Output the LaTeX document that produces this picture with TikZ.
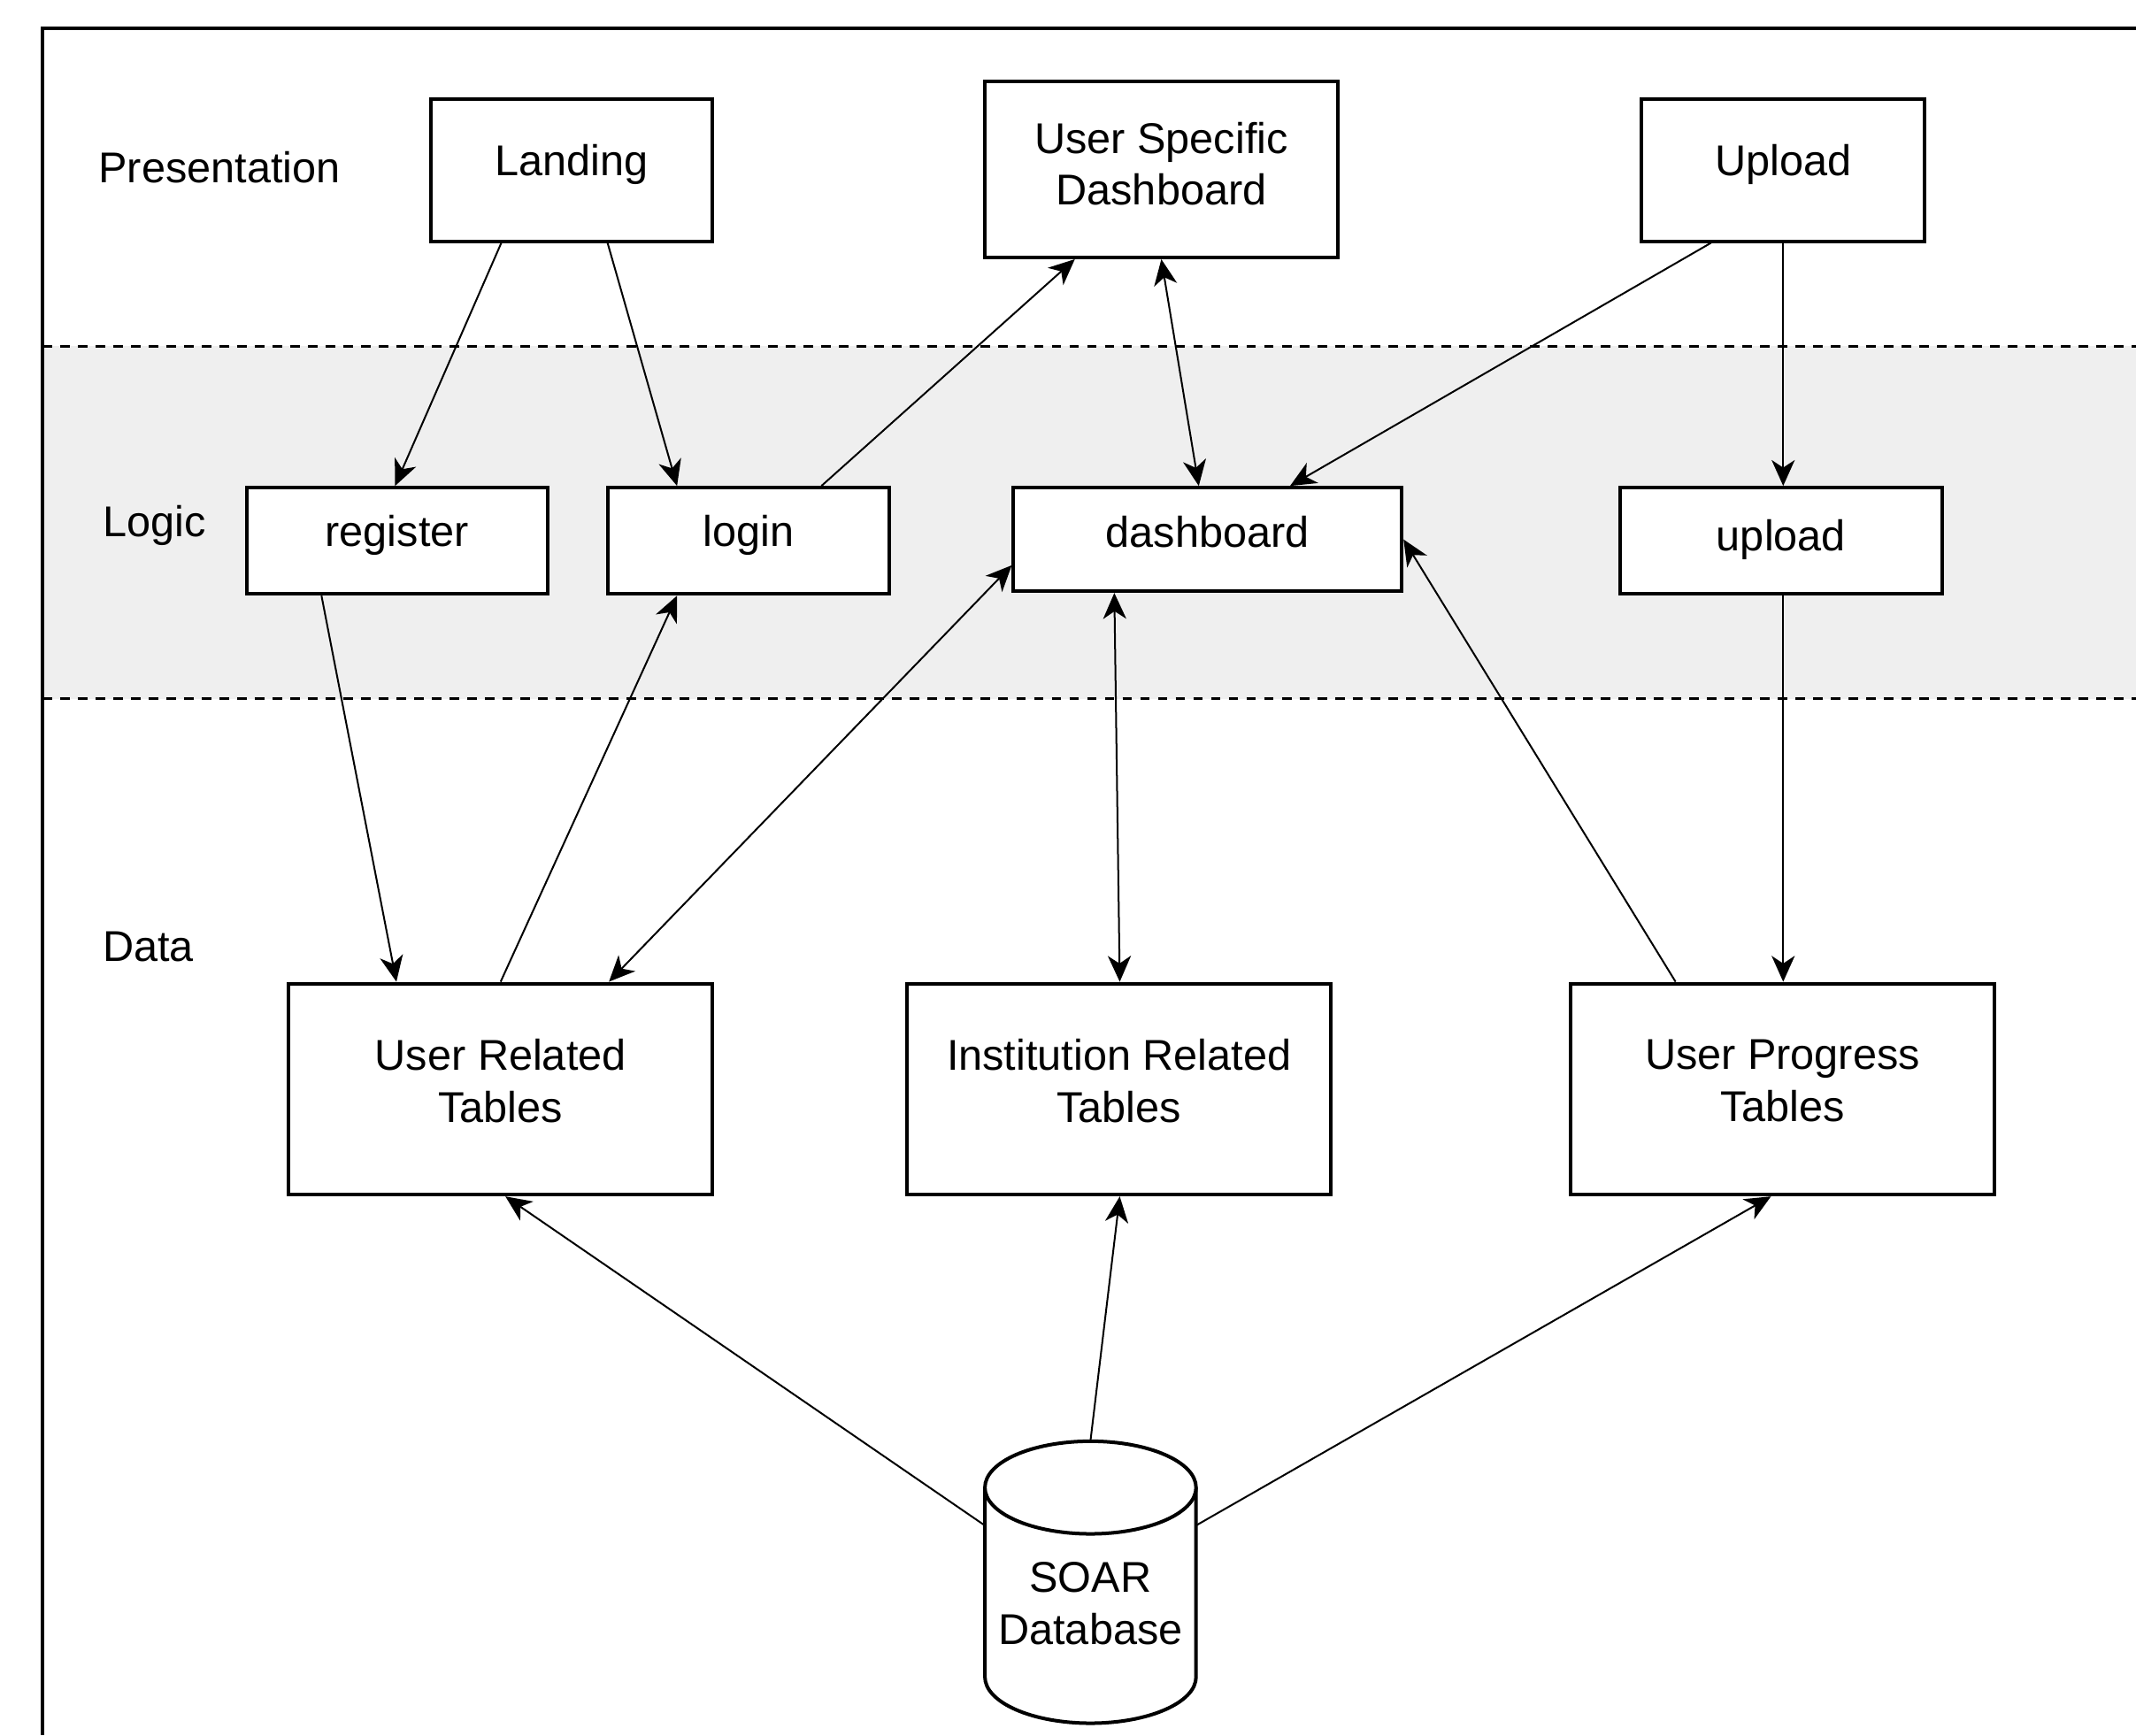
\documentclass[tikz,border=0pt]{standalone}
\usepackage{fontspec}
\setmainfont{Liberation Sans}
\usetikzlibrary{arrows.meta}
\definecolor{bandgray}{HTML}{EFEFEF}
\begin{document}
\begin{tikzpicture}[x=0.5pt,y=-0.5pt,
  box/.style={draw, line width=1.3pt, fill=white, inner sep=0pt},
  txt/.style={font=\fontsize{15.8}{19}\selectfont, align=center, inner sep=0pt},
  conn/.style={line width=0.65pt, -{Stealth[length=9.5pt,width=8.5pt,inset=2.8pt]}},
  dconn/.style={line width=0.65pt, {Stealth[length=9.5pt,width=8.5pt,inset=2.8pt]}-{Stealth[length=9.5pt,width=8.5pt,inset=2.8pt]}},
  layerline/.style={line width=1pt, dash pattern=on 3.5pt off 3pt}
]
\useasboundingbox (0,0) rectangle (1568,1274);
% logic band
\fill[bandgray] (31,254) rectangle (1568,513);
\draw[layerline] (31,254) -- (1568,254);
\draw[layerline] (31,513) -- (1568,513);
% outer frame
\draw[line width=1.3pt] (1568,21) -- (31,21) -- (31,1274);

% layer labels
\node[txt, anchor=west] (presL) at (72,123) {Presentation};
\node[txt, anchor=west] (logicL) at (75,386) {Logic};
\node[txt, anchor=west] (dataL) at (75,695) {Data};

% presentation boxes
\node[box, minimum width=103.5pt, minimum height=52pt] (landing) at (419.5,125) {};
\node[txt] (landingT) at ([yshift=2pt]landing.center) {Landing};
\node[box, minimum width=129.5pt, minimum height=64.5pt] (usd) at (852.5,124.5) {};
\node[txt] (usdT) at ([yshift=2.2pt]usd.center) {User Specific\\Dashboard};
\node[box, minimum width=104pt, minimum height=52pt] (uploadP) at (1309,125) {};
\node[txt] (uploadPT) at ([yshift=2pt]uploadP.center) {Upload};

% logic boxes
\node[box, minimum width=110.5pt, minimum height=39pt] (register) at (291.5,397) {};
\node[txt] (registerT) at ([yshift=2pt]register.center) {register};
\node[box, minimum width=103.5pt, minimum height=39pt] (login) at (549.5,397) {};
\node[txt] (loginT) at ([yshift=2pt]login.center) {login};
\node[box, minimum width=142.5pt, minimum height=38pt] (dash) at (886.5,396) {};
\node[txt] (dashT) at ([yshift=2.8pt]dash.center) {dashboard};
\node[box, minimum width=118.5pt, minimum height=39pt] (uploadL) at (1307.5,397) {};
\node[txt] (uploadLT) at ([yshift=0.5pt]uploadL.center) {upload};

% data boxes
\node[box, minimum width=155.5pt, minimum height=77.5pt] (urt) at (367.5,799.5) {};
\node[txt] (urtT) at ([yshift=3pt]urt.center) {User Related\\Tables};
\node[box, minimum width=155.5pt, minimum height=77.5pt] (irt) at (821.5,799.5) {};
\node[txt] (irtT) at ([yshift=3pt]irt.center) {Institution Related\\Tables};
\node[box, minimum width=155.5pt, minimum height=77.5pt] (upt) at (1308.5,799.5) {};
\node[txt] (uptT) at ([yshift=3pt]upt.center) {User Progress\\Tables};

% database cylinder
\node[inner sep=0pt, minimum width=77.5pt, minimum height=103.5pt] (db) at (800.5,1161.5) {};
\draw[line width=1.3pt, fill=white] (723,1092) -- (723,1231) arc (180:360:38.75pt and 17pt) -- (878,1092);
\draw[line width=1.3pt, fill=white] (800.5,1092) ellipse [x radius=38.75pt, y radius=17pt];
\node[txt] (dbT) at ([yshift=-7.8pt]db.center) {SOAR\\Database};

% connectors
\draw[conn] ([xshift=-25.75pt]landing.south) -- ([xshift=-0.75pt]register.north);
\draw[conn] ([xshift=13.25pt]landing.south) -- ([xshift=-26.25pt]login.north);
\draw[conn] ([xshift=26.75pt]login.north) -- ([xshift=-31.75pt]usd.south);
\draw[dconn] (usd.south) -- ([xshift=-3.25pt]dash.north);
\draw[conn] ([xshift=-26.5pt]uploadP.south) -- ([xshift=30.25pt]dash.north);
\draw[conn] (uploadP.south) -- (uploadP.south |- uploadL.north);
\draw[conn] ([xshift=-27.75pt]register.south) -- ([xshift=-38.25pt]urt.north);
\draw[conn] (urt.north) -- ([xshift=-26.25pt]login.south);
\draw[dconn] ([xshift=39.75pt]urt.north) -- ([yshift=-9.5pt]dash.west);
\draw[dconn] ([xshift=-34.25pt]dash.south) -- ([xshift=0.25pt]irt.north);
\draw[conn] ([xshift=-39.25pt]upt.north) -- (dash.east);
\draw[conn] ([xshift=0.75pt]uploadL.south) -- ([xshift=0.25pt]upt.north);
\draw[conn] ([yshift=-31pt]db.north west) -- ([xshift=1.75pt]urt.south);
\draw[conn] (db.north) -- ([xshift=0.25pt]irt.south);
\draw[conn] ([yshift=-31pt]db.north east) -- ([xshift=-4.25pt]upt.south);
\end{tikzpicture}
\end{document}
